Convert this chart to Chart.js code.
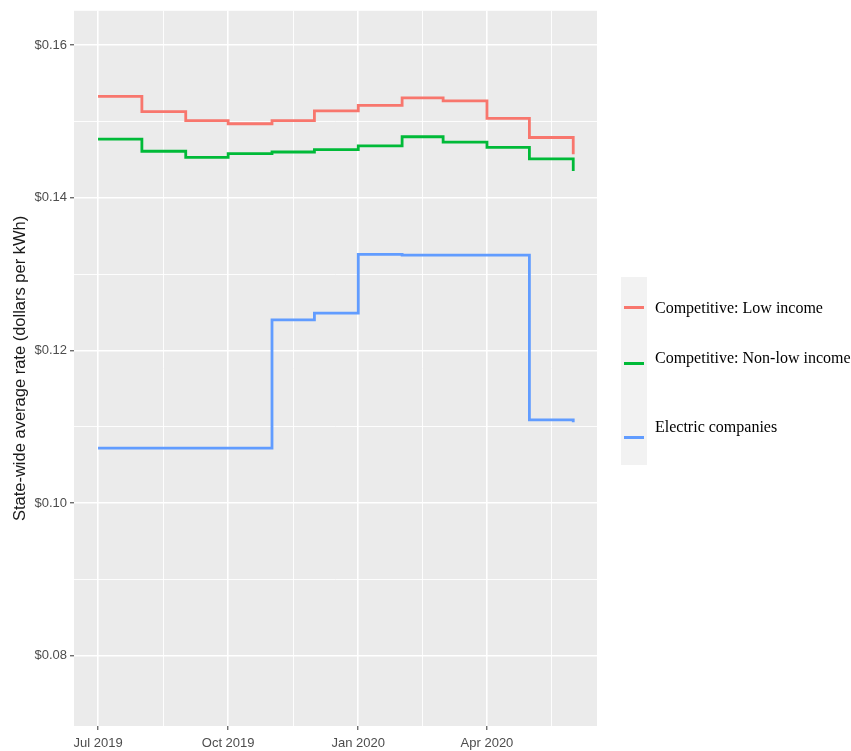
<!DOCTYPE html>
<html>
<head>
<meta charset="utf-8">
<script src="https://cdn.jsdelivr.net/npm/chart.js@4"></script>
<style>
  body { margin: 0; background: #fff; overflow: hidden; }
  #wrap { position: relative; width: 851px; height: 751px; }
  #legend { position: absolute; left: 621px; top: 277px; width: 240px; height: 188px; }
  #legend .strip { position: absolute; left: 0; top: 0; width: 26px; height: 188px; background: #F2F2F2; }
  #legend .key { position: absolute; left: 3px; width: 20px; height: 3px; }
  #legend .txt { position: absolute; left: 34px; font-family: "Liberation Serif", "Times New Roman", serif;
    font-size: 16px; color: #000; white-space: nowrap; line-height: 18px; }
</style>
</head>
<body>
<div id="wrap">
  <canvas id="rates-chart" width="851" height="751"></canvas>
  <div id="legend"><div class="strip"></div></div>
</div>
<script>
const months = ['2019-07-01', '2019-08-01', '2019-09-01', '2019-10-01', '2019-11-01', '2019-12-01',
                '2020-01-01', '2020-02-01', '2020-03-01', '2020-04-01', '2020-05-01', '2020-06-01']
const lowIncome = [0.1533, 0.1513, 0.1501, 0.1497, 0.1501, 0.1514, 0.1521, 0.1531, 0.1527, 0.1504, 0.1479, 0.1457]
const nonLowIncome = [0.1477, 0.1461, 0.1453, 0.1458, 0.1460, 0.1463, 0.1468, 0.1480, 0.1473, 0.1466, 0.1451, 0.1435]
const electric = [0.1072, 0.1072, 0.1072, 0.1072, 0.1240, 0.1249, 0.1326, 0.1325, 0.1325, 0.1325, 0.1109, 0.1106]

const xTickDates = ['2019-07-01', '2019-10-01', '2020-01-01', '2020-04-01']
const xTickLabels = ['Jul 2019', 'Oct 2019', 'Jan 2020', 'Apr 2020']
const yTicks = [0.08, 0.10, 0.12, 0.14, 0.16]
const yTickLabels = ['$0.08', '$0.10', '$0.12', '$0.14', '$0.16']

// days since 2019-07-01
const start = Date.UTC(2019, 6, 1)
function dayOf(s) {
    const p = s.split('-').map(Number)
    return (Date.UTC(p[0], p[1] - 1, p[2]) - start) / 86400000
}

const xMajor = xTickDates.map(dayOf)
const xAll = []
xMajor.forEach((d, i) => {
    xAll.push(d)
    const next = i < xMajor.length - 1 ? xMajor[i + 1] : dayOf('2020-07-01')
    xAll.push((d + next) / 2)
})
const yAll = [0.09, 0.11, 0.13, 0.15].concat(yTicks)

function toPoints(values) {
    return values.map((v, i) => ({ x: dayOf(months[i]), y: v }))
}

const series = [
    { label: 'Competitive: Low income', data: lowIncome, color: '#F8766D' },
    { label: 'Competitive: Non-low income', data: nonLowIncome, color: '#00BA38' },
    { label: 'Electric companies', data: electric, color: '#619CFF' }
]

const isMajorX = v => xMajor.indexOf(v) >= 0
const isMajorY = v => yTicks.some(t => Math.abs(t - v) < 1e-9)

const panelBg = {
    id: 'panelBg',
    beforeDraw(chart) {
        const a = chart.chartArea
        const ctx = chart.ctx
        ctx.save()
        ctx.fillStyle = '#EBEBEB'
        ctx.fillRect(a.left, a.top, a.right - a.left, a.bottom - a.top)
        ctx.restore()
    }
}

const config = {
    type: 'line',
    data: {
        datasets: series.map(s => ({
            label: s.label,
            data: toPoints(s.data),
            borderColor: s.color,
            backgroundColor: s.color,
            borderWidth: 2.8,
            stepped: true,
            fill: false,
            pointRadius: 0,
            borderCapStyle: 'butt',
            borderJoinStyle: 'miter'
        }))
    },
    options: {
        responsive: false,
        animation: false,
        layout: {
            padding: { top: 9, right: 254, left: 0, bottom: 0 }
        },
        plugins: {
            legend: { display: false },
            tooltip: { enabled: false }
        },
        scales: {
            x: {
                type: 'linear',
                min: -17,
                max: 352.8,
                afterBuildTicks: scale => { scale.ticks = xAll.map(v => ({ value: v })) },
                afterFit: scale => { scale.height = 25 },
                border: { display: false },
                grid: {
                    color: '#FFFFFF',
                    lineWidth: ctx => isMajorX(ctx.tick.value) ? 1.6 : 0.9,
                    tickColor: ctx => isMajorX(ctx.tick.value) ? '#333333' : 'rgba(0,0,0,0)',
                    tickLength: 4,
                    tickWidth: 1
                },
                ticks: {
                    autoSkip: false,
                    maxRotation: 0,
                    padding: 6,
                    color: '#4D4D4D',
                    font: { family: '"Liberation Sans", Arial, sans-serif', size: 13 },
                    callback: v => {
                        const i = xMajor.indexOf(v)
                        return i >= 0 ? xTickLabels[i] : ''
                    }
                }
            },
            y: {
                min: 0.0708,
                max: 0.1645,
                afterBuildTicks: scale => { scale.ticks = yAll.map(v => ({ value: v })) },
                afterFit: scale => { scale.width = 74 },
                border: { display: false },
                grid: {
                    color: '#FFFFFF',
                    lineWidth: ctx => isMajorY(ctx.tick.value) ? 1.6 : 0.9,
                    tickColor: ctx => isMajorY(ctx.tick.value) ? '#333333' : 'rgba(0,0,0,0)',
                    tickLength: 4,
                    tickWidth: 1
                },
                ticks: {
                    padding: 3,
                    color: '#4D4D4D',
                    font: { family: '"Liberation Sans", Arial, sans-serif', size: 13 },
                    callback: v => {
                        const i = yTicks.findIndex(t => Math.abs(t - v) < 1e-9)
                        return i >= 0 ? yTickLabels[i] : ''
                    }
                },
                title: {
                    display: true,
                    text: 'State-wide average rate (dollars per kWh)',
                    color: '#1A1A1A',
                    font: { family: '"Liberation Sans", Arial, sans-serif', size: 16.5 },
                    padding: { top: 11, bottom: 0 }
                }
            }
        }
    },
    plugins: [panelBg]
}

new Chart(document.getElementById('rates-chart'), config)

// legend built from the same series
const legend = document.getElementById('legend')
const keyY = [30, 86, 160]
const textY = [22, 72, 141]
series.forEach((s, i) => {
    const key = document.createElement('div')
    key.className = 'key'
    key.style.top = (keyY[i] - 1.5) + 'px'
    key.style.background = s.color
    legend.appendChild(key)
    const txt = document.createElement('div')
    txt.className = 'txt'
    txt.style.top = textY[i] + 'px'
    txt.textContent = s.label
    legend.appendChild(txt)
})
</script>
</body>
</html>
